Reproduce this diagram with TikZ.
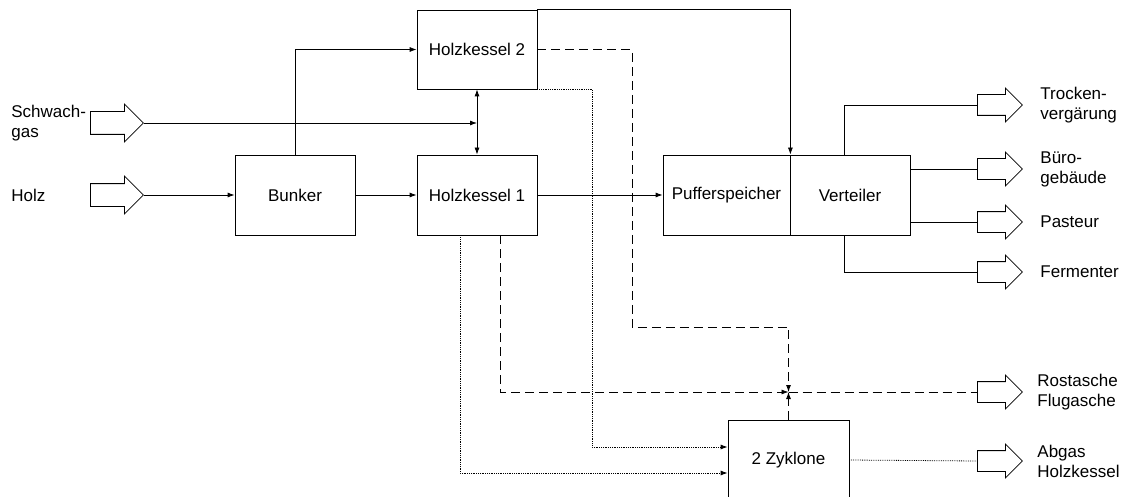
\documentclass[tikz,border=0pt]{standalone}
\usepackage{fontspec}
\setmainfont{Liberation Sans}
\usetikzlibrary{arrows.meta,shapes.arrows}

\begin{document}
\begin{tikzpicture}[x=1pt,y=-1pt,line width=0.8pt,
  >={Latex[length=7pt,width=5pt]},
  every node/.style={font=\fontsize{17}{20}\selectfont},
  box/.style={draw,inner sep=0pt,minimum width=120pt,minimum height=80pt},
  inarrow/.style={draw,single arrow,single arrow tip angle=90,anchor=tail,
    single arrow head extend=7.5pt,inner xsep=0pt,inner ysep=11pt,
    minimum height=53pt},
  outarrow/.style={draw,single arrow,single arrow tip angle=90,anchor=tail,
    single arrow head extend=6.5pt,inner xsep=0pt,inner ysep=10pt,
    minimum height=45pt},
  lbl/.style={anchor=west,align=left,inner sep=0pt},
  ashline/.style={dash pattern=on 9pt off 5pt},
  gasline/.style={densely dotted}]
  \useasboundingbox (0,0) rectangle (1123,497);

  % boxes
  \node[box] (bunker) at (295,195) {Bunker};
  \node[box] (hk1) at (477,195) {Holzkessel 1};
  \node[box,minimum height=79pt] (hk2) at (477,49.5) {Holzkessel 2};
  \node[box,minimum width=127pt] (puffer) at (726.5,195) {Pufferspeicher};
  \node[box] (verteiler) at (850,195) {Verteiler};
  \node[box,minimum width=121pt] (zyklone) at (788.5,460) {2 Zyklone};

  % inputs
  \node[inarrow] (schwachin) at (90,123) {};
  \node[inarrow] (holzin) at (90,195) {};
  \node[lbl] (schwachlbl) at (11,123) {Schwach-\\gas};
  \node[lbl] (holzlbl) at (11,195) {Holz};

  % outputs
  \node[outarrow] (trocken) at (977,105) {};
  \node[outarrow] (buero) at (977,169) {};
  \node[outarrow] (pasteur) at (977,222) {};
  \node[outarrow] (ferm) at (977,272) {};
  \node[outarrow] (rost) at (977,392) {};
  \node[outarrow] (abgas) at (977,461) {};
  \node[lbl] (trockenlbl) at (1040,105) {Trocken-\\vergärung};
  \node[lbl] (buerolbl) at (1040,169) {Büro-\\gebäude};
  \node[lbl] (pasteurlbl) at (1040,222) {Pasteur};
  \node[lbl] (fermlbl) at (1040,272) {Fermenter};
  \node[lbl] (rostlbl) at (1037,392) {Rostasche\\Flugasche};
  \node[lbl] (abgaslbl) at (1037,461) {Abgas\\Holzkessel};

  \coordinate (sgend) at (477,123);
  \coordinate (ash) at (788.5,392);

  % heat and fuel
  \draw[->] (holzin.tip) -- (bunker.west);
  \draw[->] (bunker.east) -- (hk1.west);
  \draw[->] (bunker.north) |- (hk2.west);
  \draw[->] (schwachin.tip) -- (sgend);
  \draw[<->] (hk2.south) -- (hk1.north);
  \draw[->] (hk1.east) -- (puffer.west);
  \draw[->] (hk2.north east) -| (puffer.north east);
  \draw ([xshift=-6pt]verteiler.north) |- (trocken.tail);
  \draw (verteiler.east |- buero.tail) -- (buero.tail);
  \draw (verteiler.east |- pasteur.tail) -- (pasteur.tail);
  \draw ([xshift=-6pt]verteiler.south) |- (ferm.tail);

  % ash
  \draw[ashline,->] (hk2.east) -| (632,327) -| (ash);
  \draw[ashline,->] ([xshift=23pt]hk1.south) |- (ash);
  \draw[ashline,->] (zyklone.north) -- (ash);
  \draw[ashline] (ash) -- (rost.tail);

  % flue gas
  \draw[gasline,->] (hk2.south east) -- ++(55,0) |- ([yshift=13pt]zyklone.west);
  \draw[gasline,->] ([xshift=-17pt]hk1.south) |- ([yshift=-13pt]zyklone.west);
  \draw[gasline] (zyklone.east) -- (abgas.tail);
\end{tikzpicture}
\end{document}
